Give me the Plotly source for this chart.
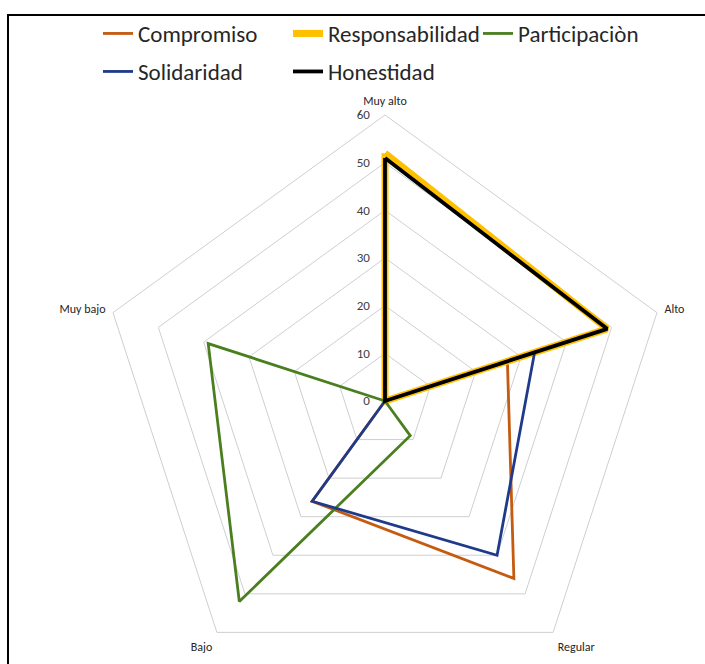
import plotly.graph_objects as go

# Categories around the radar (clockwise from the top)
categorias = ["Muy alto", "Alto", "Regular", "Bajo", "Muy bajo"]

# Percentages per value and category
compromiso = [0, 27, 46, 26, 0]
responsabilidad = [52, 49, 0, 0, 0]
participacion = [0, 0, 9, 52, 39]
solidaridad = [0, 33, 40, 26, 0]
honestidad = [51, 49, 0, 0, 0]

radial_ticks = [0, 10, 20, 30, 40, 50, 60]

W, H = 705, 720  # figure taller than the window so the outer ring fits
CX, CY, R = 385, 401, 286  # polar centre and outer radius in px

# name, values, colour, width, legend row
series = [
    ("Compromiso", compromiso, "#C55A11", 2.8, "legend"),
    ("Responsabilidad", responsabilidad, "#FFC000", 7, "legend"),
    ("Participaciòn", participacion, "#4A7F1F", 2.8, "legend"),
    ("Solidaridad", solidaridad, "#1F3A8A", 2.8, "legend2"),
    ("Honestidad", honestidad, "#000000", 3.8, "legend2"),
]

fig = go.Figure()
for name, vals, color, width, leg in series:
    fig.add_trace(go.Scatterpolar(
        r=vals + vals[:1],
        theta=categorias + categorias[:1],
        mode="lines",
        name=name,
        legend=leg,
        line=dict(color=color, width=width),
    ))

font_family = "Carlito, Liberation Sans Narrow, Open Sans, sans-serif"

legend_common = dict(
    orientation="h",
    x=98 / W,
    xanchor="left",
    yanchor="top",
    font=dict(size=23, color="#262626"),
    entrywidth=145,
    itemwidth=30,
    bgcolor="rgba(0,0,0,0)",
)

fig.update_layout(
    width=W,
    height=H,
    margin=dict(l=0, r=0, t=0, b=0),
    paper_bgcolor="white",
    plot_bgcolor="white",
    font=dict(family=font_family, color="#404040"),
    showlegend=True,
    legend=dict(legend_common, y=1 - 12 / H),
    legend2=dict(legend_common, y=1 - 50 / H),
    polar=dict(
        domain=dict(
            x=[(CX - R) / W, (CX + R) / W],
            y=[(H - (CY + R)) / H, (H - (CY - R)) / H],
        ),
        bgcolor="white",
        gridshape="linear",
        angularaxis=dict(
            direction="clockwise",
            rotation=90,
            showgrid=False,
            linecolor="#CFCFCF",
            linewidth=1,
            ticks="outside",
            ticklen=5,
            tickcolor="rgba(0,0,0,0)",
            tickfont=dict(size=12, color="#262626"),
        ),
        radialaxis=dict(
            range=[0, 60],
            tickvals=radial_ticks,
            angle=90,
            tickangle=90,
            side="counterclockwise",
            showline=False,
            ticks="outside",
            ticklen=10,
            tickcolor="rgba(0,0,0,0)",
            gridcolor="#CFCFCF",
            gridwidth=1,
            tickfont=dict(size=13, color="#404040"),
        ),
    ),
    shapes=[
        dict(
            type="rect", xref="paper", yref="paper",
            x0=8 / W, x1=1.2, y0=-0.2, y1=1 - 15 / H,
            line=dict(color="#000000", width=2),
            fillcolor="rgba(0,0,0,0)",
            layer="above",
        )
    ],
)

fig.write_html(
    "out.html",
    post_script="document.documentElement.style.overflow='hidden';document.body.style.overflow='hidden';document.body.style.margin='0';",
)
